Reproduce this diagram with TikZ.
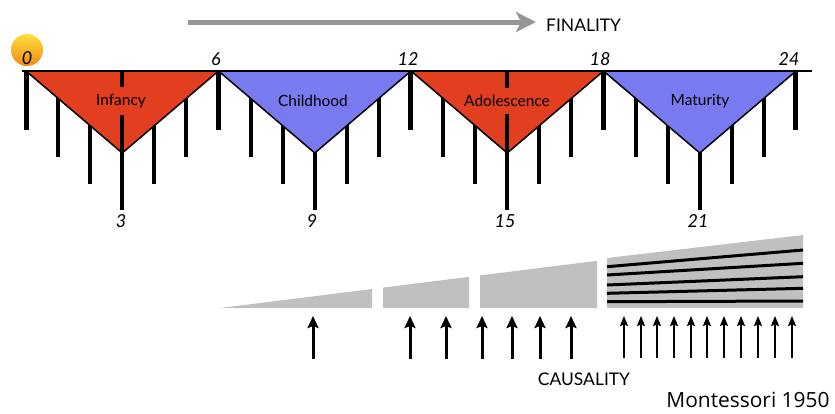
\documentclass[tikz,border=0pt]{standalone}
\usepackage{fontspec}
\setmainfont{Lato}
\newfontfamily\opensans{Open Sans}
\usetikzlibrary{arrows.meta}
\definecolor{infred}{RGB}{226,62,32}
\definecolor{chblue}{RGB}{122,122,240}
\definecolor{wedgegray}{RGB}{192,192,192}
\definecolor{arrowgray}{RGB}{150,150,150}
\definecolor{sunyellow}{RGB}{255,222,60}
\definecolor{sunorange}{RGB}{238,140,20}
\begin{document}
\begin{tikzpicture}[x=1bp,y=-1bp,
  yeartick/.style={line width=4bp},
  majortick/.style={line width=5bp},
  stagetri/.style={draw=black,line width=1.5bp,line join=round},
  stagelab/.style={inner xsep=1bp,inner ysep=7bp,font=\fontsize{15.5}{17}\selectfont},
  agenum/.style={inner sep=0pt,font=\fontsize{18}{20}\selectfont\itshape},
  capword/.style={inner sep=0pt,font=\fontsize{17.5}{19}\selectfont},
  wedge/.style={fill=wedgegray,draw=none},
  strand/.style={line width=3bp,black},
  thickarrow/.style={line width=3bp,-{Stealth[length=12bp,width=11bp,inset=2bp]}},
  thinarrow/.style={line width=1.8bp,-{Stealth[length=10bp,width=8bp,inset=1.5bp]}}
]
\useasboundingbox (0,0) rectangle (835,413);

% year ticks (behind triangles)
\foreach \i in {0,1,2,3}{
  \foreach \m/\e in {1/157,2/184,3/210,4/184,5/157}{
    \pgfmathsetmacro\xx{26+32.08*(6*\i+\m)}
    \draw[yeartick] (\xx,71) -- (\xx,\e);
  }
}
\foreach \k in {0,6,12,18,24}{
  \pgfmathsetmacro\xx{26+32.08*\k}
  \draw[majortick] (\xx,71) -- (\xx,130);
}

% stage triangles
\foreach \i/\c in {0/infred,1/chblue,2/infred,3/chblue}{
  \pgfmathsetmacro\xa{26+192.5*\i}
  \pgfmathsetmacro\xb{26+192.5*(\i+1)}
  \pgfmathsetmacro\xm{26+192.5*\i+96.25}
  \coordinate (tl\i) at (\xa,71);
  \coordinate (tr\i) at (\xb,71);
  \coordinate (tv\i) at (\xm,153);
  \filldraw[stagetri,fill=\c] (tl\i) -- (tv\i) -- (tr\i) -- cycle;
}
% middle ticks visible through the red triangles
\foreach \i in {0,2}{
  \draw[yeartick] (tv\i |- tl\i) -- (tv\i);
}
% baseline
\coordinate (bl) at (22,71);
\coordinate (br) at (812,71);
\draw[line width=1.5bp] (bl) -- (br);

% stage labels
\node[stagelab,fill=infred] (infancy) at (121,101) {Infancy};
\node[stagelab] (childhood) at (313,101) {Childhood};
\node[stagelab,fill=infred] (adolescence) at (507,101) {Adolescence};
\node[stagelab] (maturity) at (700,101) {Maturity};

% sun behind 0
\shade[top color=sunyellow,bottom color=sunorange] (27,50) circle (16);

% age numbers
\node[agenum] (n0) at (27,58) {0};
\node[agenum] (n6) at (216,59) {6};
\node[agenum] (n12) at (408,59) {12};
\node[agenum] (n18) at (600,59) {18};
\node[agenum] (n24) at (789,59) {24};
\node[agenum] (n3) at (121,221) {3};
\node[agenum] (n9) at (312,221) {9};
\node[agenum] (n15) at (505,221) {15};
\node[agenum] (n21) at (698,221) {21};

% finality arrow
\node[capword,anchor=west] (finality) at (546,25) {FINALITY};
\coordinate (fstart) at (188,22);
\coordinate (fend) at (536,22);
\draw[arrowgray,line width=5bp,-{Stealth[length=20bp,width=20bp,inset=5bp]}] (fstart) -- (fend);

% causality wedges
\fill[wedge] (220,308) -- (372,289) -- (372,308) -- cycle;
\fill[wedge] (383,308) -- (383,287.6) -- (469,276.8) -- (469,308) -- cycle;
\fill[wedge] (480,308) -- (480,275.4) -- (597,260.8) -- (597,308) -- cycle;
\fill[wedge] (607,308) -- (607,258) -- (803,235) -- (803,308) -- cycle;
\draw[strand] (607,266.7) -- (803,250);
\draw[strand] (607,275) -- (803,263.3);
\draw[strand] (607,285) -- (803,276.7);
\draw[strand] (607,293.3) -- (803,288.3);
\draw[strand] (607,301.7) -- (803,301);

% causality arrows
\foreach \x in {313,410,446,482,512,540,571}{
  \draw[thickarrow] (\x,359) -- (\x,316);
}
\foreach \x in {624,641,657,674,691,707,724,741,758,775,792}{
  \draw[thinarrow] (\x,358) -- (\x,316);
}
\node[capword] (causality) at (584,379) {CAUSALITY};
\node[inner sep=0pt,font=\opensans\fontsize{21}{23}\selectfont] (credit) at (748,400) {Montessori 1950};
\end{tikzpicture}
\end{document}
